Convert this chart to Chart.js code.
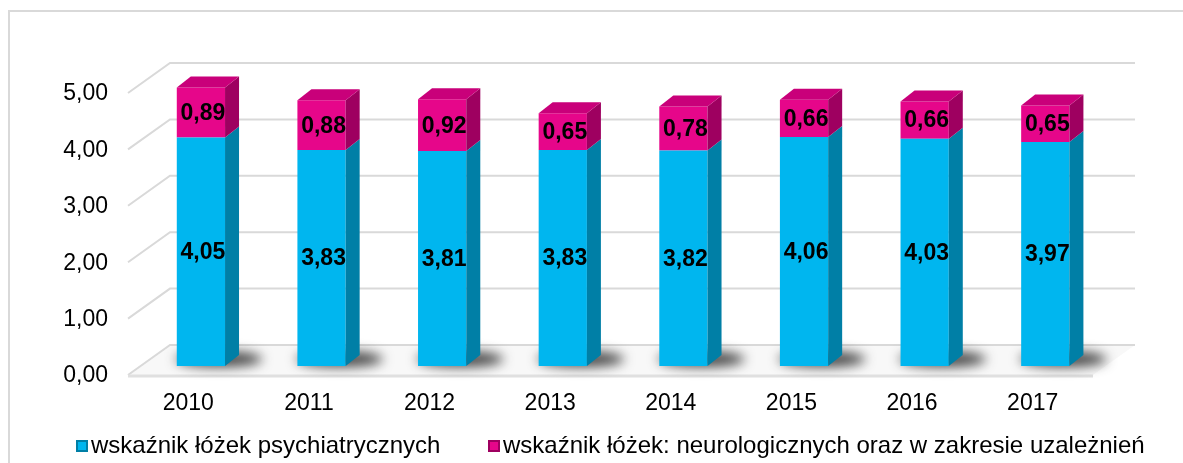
<!DOCTYPE html>
<html>
<head>
<meta charset="utf-8">
<script src="https://cdn.jsdelivr.net/npm/chart.js@4.4.0/dist/chart.umd.min.js"></script>
<style>
    html, body { margin: 0; padding: 0; background: #ffffff; }
    canvas { display: block; }
</style>
</head>
<body>
<canvas id="bedsChart" width="1183" height="463"></canvas>
<script>
// Data
var years = ['2010', '2011', '2012', '2013', '2014', '2015', '2016', '2017'];
var psychiatric = [4.05, 3.83, 3.81, 3.83, 3.82, 4.06, 4.03, 3.97];
var neuroAddiction = [0.89, 0.88, 0.92, 0.65, 0.78, 0.66, 0.66, 0.65];
var yTicks = [0, 1, 2, 3, 4, 5];
var seriesNames = [
    'wskaźnik łóżek psychiatrycznych',
    'wskaźnik łóżek: neurologicznych oraz w zakresie uzależnień'
];

// Colours (front / side / top)
var blue = { front: '#00b6ef', side: '#007fa6', top: '#2bc4f3' };
var pink = { front: '#e6068a', side: '#9e0060', top: '#c9007a' };

// 3D offsets: front plane is in front of the bar plane, back wall behind it
var FRONT = { dx: -12.6, dy: 9 };
var BACK = { dx: 29.4, dy: -21 };
var DEPTH = { dx: 14, dy: -11 };
var FONT = '"Liberation Sans", Arial, sans-serif';

function fmt(v) {
    return v.toFixed(2).replace('.', ',');
}

var wallPlugin = {
    id: 'wall',
    beforeDatasetsDraw: function (chart) {
        var ctx = chart.ctx;
        var area = chart.chartArea;
        var yScale = chart.scales.y;
        ctx.save();

        // floor
        var y0 = yScale.getPixelForValue(0);
        ctx.fillStyle = '#f8f8f8';
        ctx.beginPath();
        ctx.moveTo(area.left + FRONT.dx, y0 + FRONT.dy);
        ctx.lineTo(area.left + BACK.dx, y0 + BACK.dy);
        ctx.lineTo(area.right + BACK.dx, y0 + BACK.dy);
        ctx.lineTo(area.right + FRONT.dx, y0 + FRONT.dy);
        ctx.closePath();
        ctx.fill();

        // grid lines on the back wall + diagonals on the left
        ctx.strokeStyle = '#d9d9d9';
        ctx.lineWidth = 2;
        yTicks.forEach(function (v) {
            var py = yScale.getPixelForValue(v);
            ctx.beginPath();
            ctx.moveTo(area.left + FRONT.dx, py + FRONT.dy);
            ctx.lineTo(area.left + BACK.dx, py + BACK.dy);
            ctx.lineTo(area.right + BACK.dx, py + BACK.dy);
            ctx.stroke();
        });
        // front edge of floor
        ctx.lineWidth = 3;
        ctx.strokeStyle = '#e0e0e0';
        ctx.beginPath();
        ctx.moveTo(area.left + FRONT.dx, y0 + FRONT.dy + 1);
        ctx.lineTo(area.right + FRONT.dx, y0 + FRONT.dy + 1);
        ctx.stroke();

        // shadows under the bars
        var meta = chart.getDatasetMeta(0);
        ctx.filter = 'blur(6px)';
        ctx.fillStyle = 'rgba(30,30,30,0.8)';
        meta.data.forEach(function (bar) {
            var p = bar.getProps(['x', 'base', 'width'], true);
            ctx.beginPath();
            ctx.ellipse(p.x + 18, p.base - 7, p.width * 0.9, 8, 0, 0, Math.PI * 2);
            ctx.fill();
        });
        ctx.filter = 'none';
        ctx.restore();
    },
    afterDatasetsDraw: function (chart) {
        var ctx = chart.ctx;
        var styles = [blue, pink];
        ctx.save();
        chart.data.datasets.forEach(function (ds, di) {
            var meta = chart.getDatasetMeta(di);
            var st = styles[di];
            meta.data.forEach(function (bar) {
                var p = bar.getProps(['x', 'y', 'base', 'width'], true);
                var l = p.x - p.width / 2, r = p.x + p.width / 2;
                // side face
                ctx.fillStyle = st.side;
                ctx.beginPath();
                ctx.moveTo(r, p.y);
                ctx.lineTo(r + DEPTH.dx, p.y + DEPTH.dy);
                ctx.lineTo(r + DEPTH.dx, p.base + DEPTH.dy);
                ctx.lineTo(r, p.base);
                ctx.closePath();
                ctx.fill();
                // top face (only visible on the upper segment)
                if (di === chart.data.datasets.length - 1) {
                    ctx.fillStyle = st.top;
                    ctx.beginPath();
                    ctx.moveTo(l, p.y);
                    ctx.lineTo(l + DEPTH.dx, p.y + DEPTH.dy);
                    ctx.lineTo(r + DEPTH.dx, p.y + DEPTH.dy);
                    ctx.lineTo(r, p.y);
                    ctx.closePath();
                    ctx.fill();
                }
            });
        });

        // value labels
        ctx.fillStyle = '#000000';
        ctx.font = 'bold 23px ' + FONT;
        ctx.textAlign = 'center';
        ctx.textBaseline = 'middle';
        chart.data.datasets.forEach(function (ds, di) {
            chart.getDatasetMeta(di).data.forEach(function (bar, i) {
                var p = bar.getProps(['x', 'y', 'base'], true);
                ctx.fillText(fmt(ds.data[i]), p.x + 2, (p.y + p.base) / 2 + 1);
            });
        });
        ctx.restore();
    },
    afterDraw: function (chart) {
        var ctx = chart.ctx;
        var yScale = chart.scales.y;
        var xScale = chart.scales.x;
        ctx.save();
        ctx.fillStyle = '#000000';
        ctx.font = '23px ' + FONT;

        // y tick labels on the front plane
        ctx.textAlign = 'right';
        ctx.textBaseline = 'middle';
        yTicks.forEach(function (v) {
            ctx.fillText(fmt(v), 108, yScale.getPixelForValue(v) + FRONT.dy + 1);
        });

        // x labels
        ctx.textAlign = 'center';
        years.forEach(function (y, i) {
            ctx.fillText(y, xScale.getPixelForValue(i) + FRONT.dx, 404);
        });

        // legend
        ctx.font = '24px ' + FONT;
        ctx.textAlign = 'left';
        var items = [
            { x: 76, color: blue.front, edge: blue.side, text: seriesNames[0] },
            { x: 488, color: pink.front, edge: pink.side, text: seriesNames[1] }
        ];
        items.forEach(function (it) {
            ctx.fillStyle = it.edge;
            ctx.fillRect(it.x, 440, 12, 12);
            ctx.fillStyle = it.color;
            ctx.fillRect(it.x + 2, 442, 8, 8);
            ctx.fillStyle = '#000000';
            ctx.fillText(it.text, it.x + 15, 446);
        });

        // outer border
        ctx.strokeStyle = '#d9d9d9';
        ctx.lineWidth = 2;
        ctx.beginPath();
        ctx.moveTo(9, 463);
        ctx.lineTo(9, 11);
        ctx.lineTo(1183, 11);
        ctx.stroke();
        ctx.restore();
    }
};

var ctx = document.getElementById('bedsChart');
var bedsChart = new Chart(ctx, {
    type: 'bar',
    data: {
        labels: years,
        datasets: [
            {
                label: seriesNames[0],
                data: psychiatric,
                backgroundColor: blue.front,
                borderWidth: 0
            },
            {
                label: seriesNames[1],
                data: neuroAddiction,
                backgroundColor: pink.front,
                borderWidth: 0
            }
        ]
    },
    options: {
        responsive: false,
        animation: false,
        devicePixelRatio: 1,
        layout: {
            padding: { left: 140.6, right: 77.4, top: 84, bottom: 97 }
        },
        datasets: {
            bar: { barPercentage: 0.4, categoryPercentage: 1 }
        },
        scales: {
            x: { stacked: true, display: false },
            y: { stacked: true, display: false, min: 0, max: 5 }
        },
        plugins: {
            legend: { display: false },
            tooltip: { enabled: false }
        }
    },
    plugins: [wallPlugin]
});
</script>
</body>
</html>
